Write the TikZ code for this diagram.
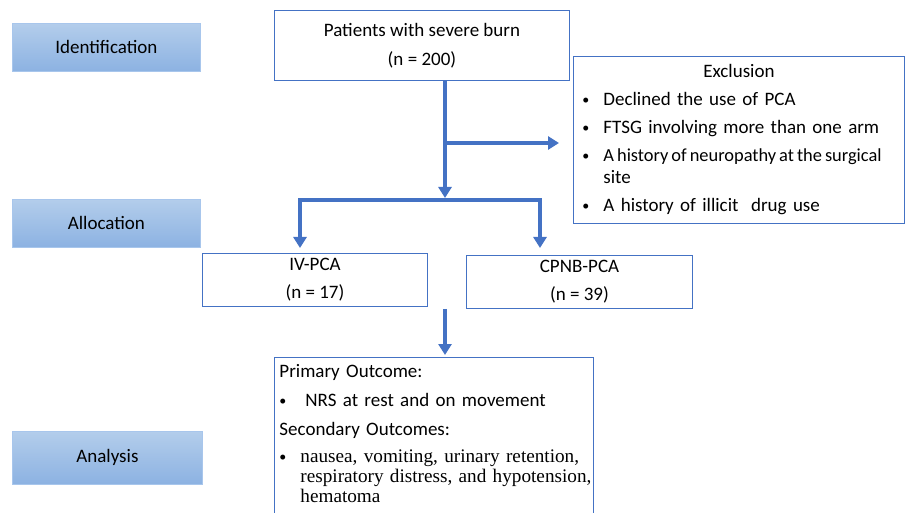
\documentclass[tikz,border=0pt]{standalone}
\usepackage{fontspec}
\setmainfont{Carlito}
\newfontfamily\serifpart{Liberation Serif}
\usetikzlibrary{arrows.meta,positioning}

\definecolor{boxblue}{HTML}{4472C4}
\definecolor{stagetop}{HTML}{B3CDEB}
\definecolor{stagebot}{HTML}{8CB2E2}
\definecolor{stageline}{HTML}{A8C6EC}

\newcommand{\listpoint}[2]{\par\noindent\hangindent=#1\hangafter=1
  \makebox[#1][l]{\raisebox{1.5pt}{\fontsize{14}{14}\selectfont\textbullet}}#2}

\tikzstyle{stage} = [draw=stageline, line width=0.8pt, top color=stagetop,
    bottom color=stagebot, rectangle, anchor=north west,
    minimum width=188, minimum height=48, font=\fontsize{19}{22}\selectfont]
\tikzstyle{block} = [draw=boxblue, line width=0.9pt, rectangle, anchor=north west,
    font=\fontsize{19}{22}\selectfont]
\tikzstyle{flow} = [draw=boxblue, line width=3.5pt,
    -{Triangle[length=11pt,width=13pt]}]

\begin{document}
\begin{tikzpicture}[x=1pt, y=-1pt]
    \useasboundingbox (0,0) rectangle (905,513);
    % stage labels on the left
    \node [stage] (ident) at (12,23) {Identification};
    \node [stage] (alloc) at (12,199) {Allocation};
    \node [stage, minimum width=190, minimum height=53] (analysis) at (12,431) {Analysis};
    % boxes
    \node [block, minimum width=295, minimum height=70, align=center] (patients) at (274,10)
        {Patients with severe burn\\[7pt](n = 200)};
    \node [block, minimum width=331, minimum height=167, text width=313, inner xsep=9, align=left]
        (exclusion) at (573,56) {%
        \setlength{\parskip}{6pt}%
        {\centering Exclusion\par}%
        \listpoint{21pt}{\mbox{Declined the use of PCA}}
        \listpoint{21pt}{\mbox{FTSG involving more than one arm}}
        \listpoint{21pt}{\mbox{\fontsize{18.4}{22}\selectfont\spaceskip=3pt A history of neuropathy at the surgical}\newline site}
        \listpoint{21pt}{\mbox{A history of illicit\ \ drug use}}\par};
    \node [block, minimum width=225, minimum height=53, align=center] (ivpca) at (202,253)
        {IV-PCA\\[6pt](n = 17)};
    \node [block, minimum width=226, minimum height=53, align=center] (cpnb) at (466,255)
        {CPNB-PCA\\[6pt](n = 39)};
    \node [block, text width=309, inner xsep=5, inner ysep=7, align=left] (outcome) at (274,357) {%
        \setlength{\parskip}{7pt}%
        \noindent Primary Outcome:
        \listpoint{26pt}{\mbox{NRS at rest and on movement}}
        \par\noindent Secondary Outcomes:
        \listpoint{21pt}{\serifpart\fontsize{19.2}{20}\selectfont
            \mbox{nausea, vomiting, urinary retention,}\newline
            \mbox{respiratory distress, and hypotension,}\newline hematoma}
        \par\vspace{14pt}\mbox{}};
    % connectors
    \coordinate (split) at (445,200);
    \coordinate (excl) at (445,143);
    \coordinate (ldrop) at (300,200);
    \coordinate (rdrop) at (540,200);
    \draw [flow] (patients.south -| split) -- ([yshift=2pt]split);
    \draw [flow] (excl) -- ([xshift=-14pt]exclusion.west |- excl);
    \draw [flow] (rdrop) -- (ldrop) -- ([yshift=5pt]ivpca.north -| ldrop);
    \draw [flow] (ldrop) -- (rdrop) -- ([yshift=7pt]cpnb.north -| rdrop);
    \draw [flow] (cpnb.south -| split) -- ([yshift=2pt]outcome.north -| split);
\end{tikzpicture}
\end{document}
